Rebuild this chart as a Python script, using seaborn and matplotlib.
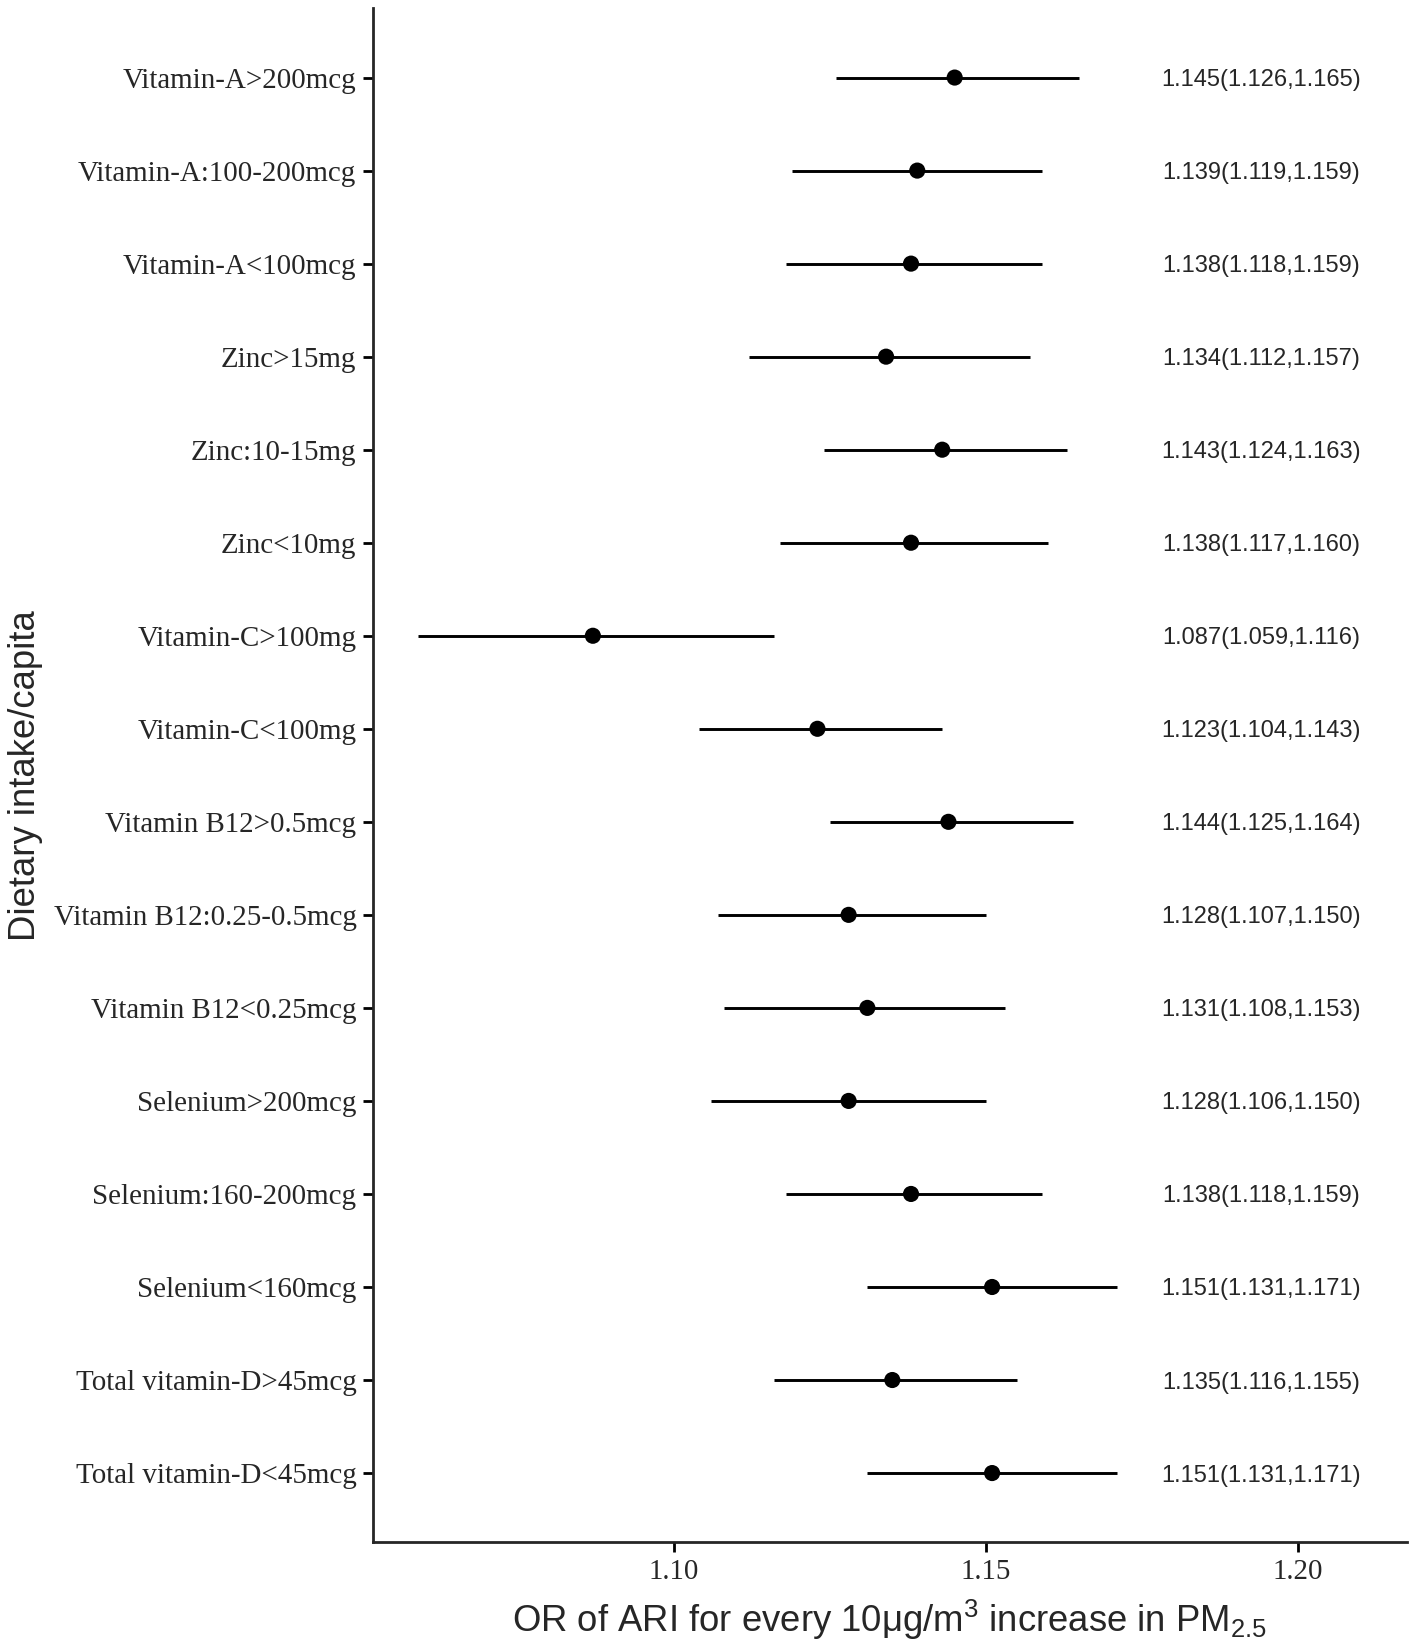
import numpy as np
import pandas as pd
import seaborn as sns
import matplotlib.pyplot as plt

# values (top to bottom)
labels = [
    "Vitamin-A>200mcg",
    "Vitamin-A:100-200mcg",
    "Vitamin-A<100mcg",
    "Zinc>15mg",
    "Zinc:10-15mg",
    "Zinc<10mg",
    "Vitamin-C>100mg",
    "Vitamin-C<100mg",
    "Vitamin B12>0.5mcg",
    "Vitamin B12:0.25-0.5mcg",
    "Vitamin B12<0.25mcg",
    "Selenium>200mcg",
    "Selenium:160-200mcg",
    "Selenium<160mcg",
    "Total vitamin-D>45mcg",
    "Total vitamin-D<45mcg",
]
odds = [1.145, 1.139, 1.138, 1.134, 1.143, 1.138, 1.087, 1.123,
        1.144, 1.128, 1.131, 1.128, 1.138, 1.151, 1.135, 1.151]
lower = [1.126, 1.119, 1.118, 1.112, 1.124, 1.117, 1.059, 1.104,
         1.125, 1.107, 1.108, 1.106, 1.118, 1.131, 1.116, 1.131]
upper = [1.165, 1.159, 1.159, 1.157, 1.163, 1.160, 1.116, 1.143,
         1.164, 1.150, 1.153, 1.150, 1.159, 1.171, 1.155, 1.171]
xticks = [1.10, 1.15, 1.20]

df = pd.DataFrame({"label": labels, "or": odds, "lo": lower, "hi": upper})
df["txt"] = [f"{o:.3f}({l:.3f},{h:.3f})" for o, l, h in zip(df["or"], df["lo"], df["hi"])]
pos = np.arange(len(df))

sns.set_style("ticks")
plt.rcParams["font.family"] = ["Liberation Serif", "DejaVu Serif"]
plt.rcParams["mathtext.fontset"] = "custom"
plt.rcParams["mathtext.rm"] = "Liberation Sans"
plt.rcParams["mathtext.it"] = "Liberation Sans:italic"

fig = plt.figure(figsize=(14.17, 16.51), dpi=100)
ax = fig.add_axes([0.2630, 0.0658, 0.7299, 0.9292])

ax.hlines(pos, df["lo"], df["hi"], color="black", linewidth=2.1, zorder=2)
sns.scatterplot(data=df, x="or", y=pos, color="black", s=135,
                edgecolor="none", zorder=3, ax=ax, legend=False)

for y, t in zip(pos, df["txt"]):
    ax.text(1.1941, y, t, ha="center", va="center_baseline", fontsize=17,
            family=["Liberation Sans", "DejaVu Sans"])

ax.set_xlim(1.0517, 1.2175)
ax.set_ylim(len(df) - 1 + 0.745, -0.745)
ax.set_yticks(pos)
ax.set_yticklabels(df["label"], fontsize=20.9)
ax.set_xticks(xticks)
ax.set_xticklabels([f"{v:.2f}" for v in xticks], fontsize=20.9)

sns.despine(ax=ax)
for s in ["left", "bottom"]:
    ax.spines[s].set_linewidth(2.0)
ax.tick_params(length=7, width=2.0, pad=4.7, color="black")

ax.set_xlabel("OR of ARI for every 10μg/m$^{3}$ increase in PM$_{2.5}$",
              fontsize=26.3, family=["Liberation Sans", "DejaVu Sans"])
ax.set_ylabel("Dietary intake/capita", fontsize=26.3,
              family=["Liberation Sans", "DejaVu Sans"])
ax.xaxis.set_label_coords(0.5, -0.036)
ax.yaxis.set_label_coords(-0.319, 0.5)

plt.savefig("out.png", dpi=100)
